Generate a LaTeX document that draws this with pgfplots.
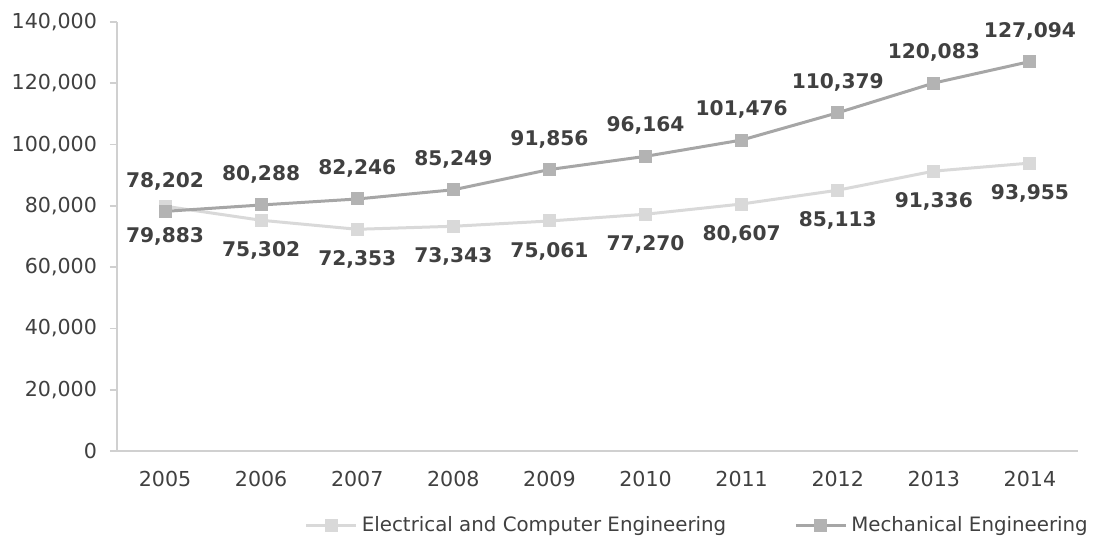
\documentclass[border=0pt]{standalone}
\usepackage{pgfplots}
\pgfplotsset{compat=1.18}
\usepackage{fontspec}
\setmainfont{DejaVu Sans}
\definecolor{meline}{HTML}{A6A6A6}
\definecolor{memark}{HTML}{B3B3B3}
\definecolor{eceline}{HTML}{D9D9D9}
\definecolor{txt}{HTML}{404040}
\definecolor{axc}{HTML}{D0D0D0}
\begin{document}
\begin{tikzpicture}
\useasboundingbox (-58.5pt,-45.5pt) rectangle (493pt,225.5pt);
\begin{axis}[
  at={(0,0)}, anchor=south west,
  scale only axis, width=480.5pt, height=214.5pt,
  xmin=-0.5, xmax=9.5, ymin=0, ymax=140000,
  axis lines*=left,
  axis line style={axc, line width=0.8pt},
  every tick/.style={axc, line width=0.8pt},
  tick align=outside,
  major tick length=3.5pt,
  xtick={0,...,9},
  xticklabels={2005,2006,2007,2008,2009,2010,2011,2012,2013,2014},
  major x tick style={draw=none},
  extra x ticks={-0.5,0.5,1.5,2.5,3.5,4.5,5.5,6.5,7.5,8.5,9.5},
  extra x tick labels={{},{},{},{},{},{},{},{},{},{},{}},
  extra x tick style={major tick length=3pt, tick style={axc, line width=0.8pt}},
  ytick={0,20000,40000,60000,80000,100000,120000,140000},
  yticklabels={0,{20,000},{40,000},{60,000},{80,000},{100,000},{120,000},{140,000}},
  scaled y ticks=false,
  tick label style={text=txt, font=\fontsize{10.3}{12}\selectfont},
  yticklabel style={xshift=-3pt},
  xticklabel style={yshift=-3pt},
  legend columns=2,
  legend style={at={(rel axis cs:1.021,-0.1725)}, anchor=east, draw=none, fill=none,
    font=\fontsize{9.9}{12}\selectfont, text=txt,
    /tikz/every even column/.append style={column sep=32pt}},
  legend image code/.code={
    \draw[#1, mark=none] (0pt,0pt) -- (25pt,0pt);
    \draw[#1, only marks] plot coordinates {(12.5pt,0pt)};
  },
  every node near coord/.append style={font=\bfseries\fontsize{10.1}{12}\selectfont, text=txt, inner sep=0pt},
  clip=false,
]
\addplot[eceline, line width=1.5pt, mark=square*, mark size=2.5pt,
  mark options={fill=eceline, draw=eceline},
  nodes near coords, point meta=explicit symbolic,
  every node near coord/.append style={anchor=north, yshift=-10pt}]
  coordinates {(0,79883)[79,883] (1,75302)[75,302] (2,72353)[72,353] (3,73343)[73,343] (4,75061)[75,061]
   (5,77270)[77,270] (6,80607)[80,607] (7,85113)[85,113] (8,91336)[91,336] (9,93955)[93,955]};
\addlegendentry{Electrical and Computer Engineering}
\addplot[meline, line width=1.5pt, mark=square*, mark size=2.5pt,
  mark options={fill=memark, draw=memark},
  nodes near coords, point meta=explicit symbolic,
  every node near coord/.append style={anchor=south, yshift=10pt}]
  coordinates {(0,78202)[78,202] (1,80288)[80,288] (2,82246)[82,246] (3,85249)[85,249] (4,91856)[91,856]
   (5,96164)[96,164] (6,101476)[101,476] (7,110379)[110,379] (8,120083)[120,083] (9,127094)[127,094]};
\addlegendentry{Mechanical Engineering}
\end{axis}
\end{tikzpicture}
\end{document}
